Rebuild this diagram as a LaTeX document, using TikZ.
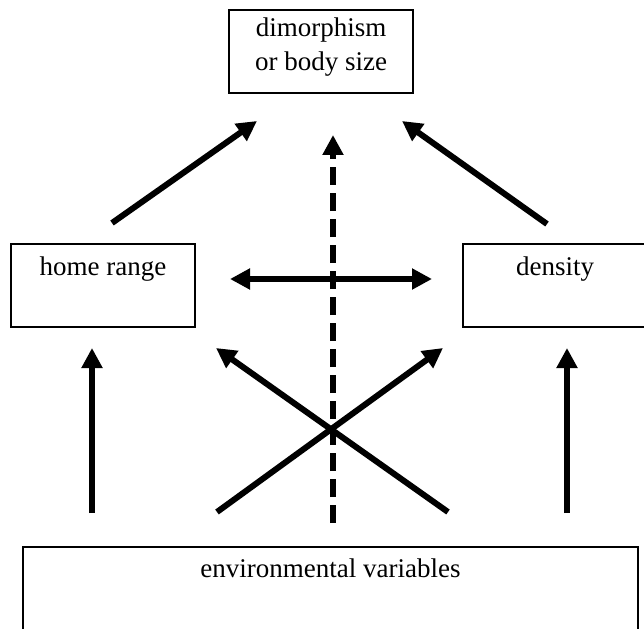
\documentclass[tikz,border=0pt]{standalone}
\usepackage{fontspec}
\setmainfont{Liberation Serif}
\usetikzlibrary{arrows.meta}
\begin{document}
\begin{tikzpicture}[x=1pt,y=-1pt,
  box/.style={draw,line width=1.2pt,minimum width=184pt,minimum height=83pt,inner sep=0pt},
  lbl/.style={font=\fontsize{27}{33}\selectfont,inner sep=0pt,anchor=base,align=center},
  arr/.style={line width=6pt,-{Triangle[length=20pt,width=20pt]}},
  darr/.style={line width=6pt,{Triangle[length=20pt,width=20pt]}-{Triangle[length=20pt,width=20pt]}},
  dash arr/.style={arr,dash pattern=on 18pt off 8pt}]
\useasboundingbox (0,0) rectangle (644,628);
% boxes
\node[box] (top) at (321,51.5) {};
\node[box] (home) at (103,285.5) {};
\node[box] (dens) at (555,285.5) {};
\node[box,minimum width=615pt,minimum height=120pt] (env) at (330.5,607) {};
% labels
\node[lbl] (toptxt1) at (321,37) {dimorphism};
\node[lbl] (toptxt2) at (321,71) {or body size};
\node[lbl] (hometxt) at (103,275) {home range};
\node[lbl] (denstxt) at (555,275) {density};
\node[lbl] (envtxt) at (330.5,577) {environmental variables};
% arrow end points
\coordinate (a1s) at (112,223); \coordinate (a1e) at (257,121);
\coordinate (a2s) at (547,224); \coordinate (a2e) at (402,121);
\coordinate (a3s) at (333,523); \coordinate (a3e) at (333,135);
\coordinate (a4s) at (230,279); \coordinate (a4e) at (432,279);
\coordinate (a5s) at (92,513);  \coordinate (a5e) at (92,348);
\coordinate (a6s) at (567,513); \coordinate (a6e) at (567,348);
\coordinate (a7s) at (217,512); \coordinate (a7e) at (443,348);
\coordinate (a8s) at (448,512); \coordinate (a8e) at (216,348);
% arrows
\draw[arr] (a1s) -- (a1e);
\draw[arr] (a2s) -- (a2e);
\draw[arr] (a5s) -- (a5e);
\draw[arr] (a6s) -- (a6e);
\draw[arr] (a7s) -- (a7e);
\draw[arr] (a8s) -- (a8e);
\draw[darr] (a4s) -- (a4e);
\draw[dash arr] (a3s) -- (a3e);
\end{tikzpicture}
\end{document}
